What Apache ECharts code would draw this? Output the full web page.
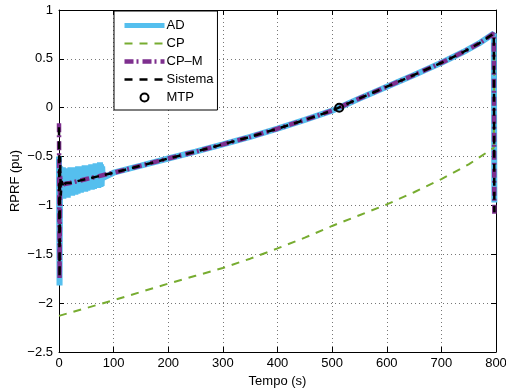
<!DOCTYPE html>
<html>
<head>
<meta charset="utf-8">
<script src="https://cdn.jsdelivr.net/npm/echarts@6/dist/echarts.min.js"></script>
<style>
html,body{margin:0;padding:0;background:#fff;}
#c{width:506px;height:392px;}
</style>
</head>
<body>
<div id="c"></div>
<script>
// ---- data ----
const xTicks = [0, 100, 200, 300, 400, 500, 600, 700, 800];
const yTicks = [-2.5, -2, -1.5, -1, -0.5, 0, 0.5, 1];

// shared smooth trajectory (AD, CP-M, Sistema)
const curveT = [20, 50, 100, 150, 200, 250, 300, 350, 400, 450, 500, 550, 600, 650, 700, 740, 768, 796];
const curveV = [-0.77, -0.73, -0.665, -0.593, -0.52, -0.45, -0.375, -0.298, -0.215, -0.125, -0.03, 0.095, 0.215, 0.335, 0.46, 0.57, 0.655, 0.76];

// AD: start spike + noisy segment
const adStartT = [0, 1, 2];
const adStartV = [-0.5, -1.82, -0.6];
const adNoiseT = [3,4,5,6,7,8,9,10,11,12,13,14,15,16,17,18,19,20,21,22,23,24,25,26,27,28,29,30,31,32,33,34,35,36,37,38,39,40,41,42,43,44,45,46,47,48,49,50,51,52,53,54,55,56,57,58,59,60,61,62,63,64,65,66,67,68,69,70,71,72,73,74,75,76,77,78,79,80];
const adNoiseV = [-0.62,-0.92,-0.66,-0.90,-0.61,-0.93,-0.65,-0.89,-0.63,-0.91,-0.66,-0.88,-0.62,-0.92,-0.64,-0.89,-0.63,-0.90,-0.61,-0.88,-0.65,-0.90,-0.62,-0.89,-0.64,-0.87,-0.61,-0.89,-0.63,-0.86,-0.62,-0.88,-0.60,-0.87,-0.63,-0.86,-0.61,-0.87,-0.62,-0.85,-0.60,-0.86,-0.62,-0.84,-0.59,-0.86,-0.61,-0.84,-0.60,-0.85,-0.62,-0.83,-0.59,-0.84,-0.60,-0.82,-0.58,-0.84,-0.61,-0.82,-0.59,-0.83,-0.58,-0.81,-0.57,-0.82,-0.59,-0.81,-0.57,-0.82,-0.58,-0.80,-0.56,-0.81,-0.58,-0.80,-0.60,-0.72];
const adEndT = [797];
const adEndV = [-0.97];

// CP-M start / end
const cpmStartT = [0, 1, 2, 4, 10];
const cpmStartV = [-0.16, -1.75, -0.7, -0.8, -0.78];
const cpmEndT = [797];
const cpmEndV = [-1.1];

// Sistema start / end
const sisStartT = [0, 1, 2, 3, 5, 8, 12];
const sisStartV = [-0.2, -1.74, -0.5, -0.9, -0.75, -0.82, -0.77];
const sisEndT = [797];
const sisEndV = [-1.07];

// CP
const cpT = [0, 50, 100, 150, 200, 250, 300, 350, 400, 450, 500, 550, 600, 650, 700, 750, 796, 797];
const cpV = [-2.13, -2.05, -1.97, -1.885, -1.80, -1.72, -1.64, -1.545, -1.44, -1.33, -1.21, -1.10, -0.99, -0.865, -0.73, -0.58, -0.41, 0.6];

// MTP
const mtpT = [513];
const mtpV = [0];

// ---- build ----
function pairs(t, v) { return t.map((x, i) => [x, v[i]]); }
const curveAfter = (t0) => pairs(curveT, curveV).filter(p => p[0] > t0);

const adData = pairs(adStartT, adStartV).concat(pairs(adNoiseT, adNoiseV), curveAfter(80), pairs(adEndT, adEndV));
const cpmData = pairs(cpmStartT, cpmStartV).concat(curveAfter(10), pairs(cpmEndT, cpmEndV));
const sisData = pairs(sisStartT, sisStartV).concat(curveAfter(12), pairs(sisEndT, sisEndV));
const cpData = pairs(cpT, cpV);
const mtpData = pairs(mtpT, mtpV);

const FONT = 'Liberation Sans';
const fmt = v => String(v).replace('-', '\u2212');
const gridLine = { show: true, lineStyle: { color: '#777', width: 1, type: [1, 3] } };
const hideSym = { opacity: 0 };

const chart = echarts.init(document.getElementById('c'), null, { renderer: 'canvas' });
chart.setOption({
  animation: false,
  backgroundColor: '#fff',
  textStyle: { fontFamily: FONT, color: '#000' },
  grid: { left: 59, right: 10, top: 10, bottom: 40, containLabel: false, outerBoundsMode: 'none' },
  legend: {
    orient: 'vertical',
    left: 114, top: 11,
    width: 106,
    padding: [8, 4, 6, 8],
    itemWidth: 40, itemHeight: 10, itemGap: 5,
    borderColor: '#000', borderWidth: 1, backgroundColor: '#fff',
    textStyle: { fontFamily: FONT, fontSize: 13, color: '#000', padding: [0, 0, 0, -3] },
    data: [
      { name: 'AD', itemStyle: hideSym, lineStyle: { width: 5, color: '#55BFEE' } },
      { name: 'CP', itemStyle: hideSym, lineStyle: { width: 2, color: '#77AC30', type: [8, 7] } },
      { name: 'CP\u2013M', itemStyle: hideSym, lineStyle: { width: 4.5, color: '#7E2F8E', type: [9, 3, 2, 4] } },
      { name: 'Sistema', itemStyle: hideSym, lineStyle: { width: 2.5, color: '#000', type: [8, 7] } },
      { name: 'MTP' }
    ]
  },
  xAxis: [{
    type: 'value', min: 0, max: 800, interval: 100, position: 'bottom',
    name: 'Tempo (s)', nameLocation: 'middle', nameGap: 21,
    nameTextStyle: { fontFamily: FONT, fontSize: 13, color: '#000' },
    axisLine: { show: true, onZero: false, lineStyle: { color: '#000', width: 1 } },
    axisTick: { show: true, inside: true, length: 5, lineStyle: { color: '#000' } },
    axisLabel: { fontFamily: FONT, fontSize: 13, color: '#000', margin: 5, formatter: fmt },
    splitLine: gridLine
  }, {
    type: 'value', min: 0, max: 800, interval: 100, position: 'top',
    axisLine: { show: true, onZero: false, lineStyle: { color: '#000', width: 1 } },
    axisTick: { show: true, inside: true, length: 5, lineStyle: { color: '#000' } },
    axisLabel: { show: false }, splitLine: { show: false }
  }],
  yAxis: [{
    type: 'value', min: -2.5, max: 1, interval: 0.5, position: 'left',
    name: 'RPRF (pu)', nameLocation: 'middle', nameGap: 37, nameRotate: 90, nameMoveOverlap: false,
    nameTextStyle: { fontFamily: FONT, fontSize: 13, color: '#000' },
    axisLine: { show: true, onZero: false, lineStyle: { color: '#000', width: 1 } },
    axisTick: { show: true, inside: true, length: 5, lineStyle: { color: '#000' } },
    axisLabel: { fontFamily: FONT, fontSize: 13, color: '#000', margin: 6, formatter: fmt },
    splitLine: gridLine
  }, {
    type: 'value', min: -2.5, max: 1, interval: 0.5, position: 'right',
    axisLine: { show: true, onZero: false, lineStyle: { color: '#000', width: 1 } },
    axisTick: { show: true, inside: true, length: 5, lineStyle: { color: '#000' } },
    axisLabel: { show: false }, splitLine: { show: false }
  }],
  series: [
    { name: 'AD', type: 'line', data: adData, symbol: 'none', z: 2,
      color: '#55BFEE', lineStyle: { color: '#55BFEE', width: 6 } },
    { name: 'CP', type: 'line', data: cpData, symbol: 'none', z: 3,
      color: '#77AC30', lineStyle: { color: '#77AC30', width: 2, type: [8, 7] } },
    { name: 'CP\u2013M', type: 'line', data: cpmData, symbol: 'none', z: 4,
      color: '#7E2F8E', lineStyle: { color: '#7E2F8E', width: 4.5, type: [9, 3, 2, 4] } },
    { name: 'Sistema', type: 'line', data: sisData, symbol: 'none', z: 5,
      color: '#000', lineStyle: { color: '#000', width: 2.5, type: [8, 6] } },
    { name: 'MTP', type: 'line', data: mtpData, symbol: 'circle', symbolSize: 8, z: 6,
      color: '#000',
      itemStyle: { color: 'rgba(0,0,0,0)', borderColor: '#000', borderWidth: 2 },
      lineStyle: { width: 0, opacity: 0 } }
  ]
});
</script>
</body>
</html>
